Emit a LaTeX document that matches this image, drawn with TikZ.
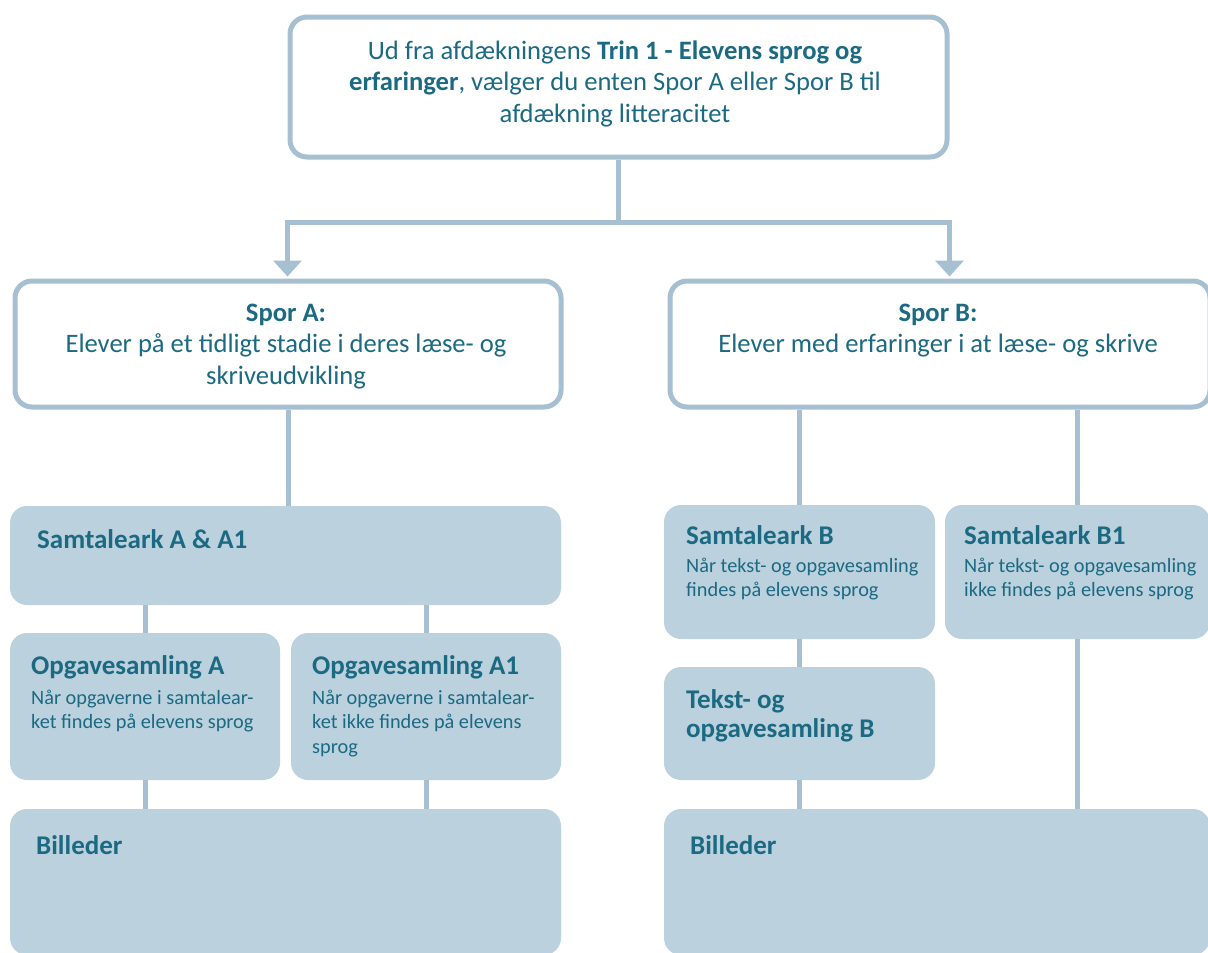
\documentclass[tikz,border=0pt]{standalone}
\usepackage{fontspec}
\setmainfont{Carlito}
\usetikzlibrary{arrows.meta,calc}
\definecolor{lineblue}{HTML}{A6C0D2}
\definecolor{fillblue}{HTML}{BBD1DE}
\definecolor{txtcol}{HTML}{1B6A82}
\newcommand\mylinesl[1]{\begin{tabular}[t]{@{}l@{}}#1\end{tabular}}
\newcommand\mylinesc[1]{\begin{tabular}[t]{@{}c@{}}#1\end{tabular}}
\begin{document}
\begin{tikzpicture}[x=1pt,y=-1pt,
  wbox/.style={draw=lineblue, line width=5pt, fill=white, rounded corners=17pt, anchor=north west, inner sep=0pt},
  fbox/.style={fill=fillblue, rounded corners=17pt, anchor=north west, inner sep=0pt, outer sep=0pt},
  conn/.style={draw=lineblue, line width=5pt},
  arr/.style={conn, -{Triangle[width=28pt,length=16pt]}, shorten >=2pt},
  bigtxt/.style={text=txtcol, font=\fontsize{26.6}{31.7}\selectfont, inner sep=0pt, anchor=base},
  headtxt/.style={text=txtcol, font=\bfseries\fontsize{27}{29}\selectfont, inner sep=0pt, anchor=base west},
  subtxt/.style={text=txtcol, font=\fontsize{20.3}{24.5}\selectfont, inner sep=0pt, anchor=base west}]
\useasboundingbox (0,0) rectangle (1208,953);
\clip (0,0) rectangle (1208,953);

% bordered boxes
\node[wbox, minimum width=657pt, minimum height=140pt] (top) at (287.5,14.5) {};
\node[wbox, minimum width=546pt, minimum height=126pt] (spA) at (12.5,278.5) {};
\node[wbox, minimum width=540pt, minimum height=126pt] (spB) at (667.5,278.5) {};

% filled boxes
\node[fbox, minimum width=551pt, minimum height=99pt] (samA) at (10,506) {};
\node[fbox, minimum width=270pt, minimum height=147pt] (opgA) at (10,633) {};
\node[fbox, minimum width=270pt, minimum height=147pt] (opgAi) at (291,633) {};
\node[fbox, minimum width=551pt, minimum height=146pt] (bilA) at (10,809) {};
\node[fbox, minimum width=271pt, minimum height=134pt] (samB) at (664,505) {};
\node[fbox, minimum width=265pt, minimum height=134pt] (samBi) at (945,505) {};
\node[fbox, minimum width=271pt, minimum height=113pt] (tekB) at (664,667) {};
\node[fbox, minimum width=546pt, minimum height=146pt] (bilB) at (664,809) {};

% connectors
\draw[arr] (top.south) -- ++(0,63) -| (top.west |- spA.north);
\draw[arr] (top.south) -- ++(0,63) -| (top.east |- spB.north);
\draw[conn] (spA.south) -- (spA.south |- samA.north);
\draw[conn] (opgA.north |- samA.south) -- (opgA.north);
\draw[conn] (opgAi.north |- samA.south) -- (opgAi.north);
\draw[conn] (opgA.south) -- (opgA.south |- bilA.north);
\draw[conn] (opgAi.south) -- (opgAi.south |- bilA.north);
\draw[conn] (samB.north |- spB.south) -- (samB.north);
\draw[conn] (samBi.north |- spB.south) -- (samBi.north);
\draw[conn] (samB.south) -- (tekB.north);
\draw[conn] (tekB.south) -- (tekB.south |- bilB.north);
\draw[conn] (samBi.south) -- (samBi.south |- bilB.north);

% texts
\node[bigtxt] (toptxt) at (615,59) {\mylinesc{Ud fra afdækningens \textbf{Trin 1 - Elevens sprog og}\\\textbf{erfaringer}, vælger du enten Spor A eller Spor B til\\afdækning litteracitet}};
\node[bigtxt] (spAtxt) at (286,321) {\mylinesc{\textbf{Spor A:}\\Elever på et tidligt stadie i deres læse- og\\skriveudvikling}};
\node[bigtxt] (spBtxt) at (938,321) {\mylinesc{\textbf{Spor B:}\\Elever med erfaringer i at læse- og skrive}};

\node[headtxt] (samAtxt) at (37,548) {Samtaleark A \& A1};
\node[headtxt] (opgAtxt) at (31,674) {Opgavesamling A};
\node[subtxt] (opgAsub) at (31,704) {\mylinesl{Når opgaverne i samtalear-\\ket findes på elevens sprog}};
\node[headtxt] (opgAitxt) at (312,674) {Opgavesamling A1};
\node[subtxt] (opgAisub) at (312,704) {\mylinesl{Når opgaverne i samtalear-\\ket ikke findes på elevens\\sprog}};
\node[headtxt] (bilAtxt) at (36,854) {Billeder};

\node[headtxt] (samBtxt) at (686,544) {Samtaleark B};
\node[subtxt] (samBsub) at (686,572) {\mylinesl{Når tekst- og opgavesamling\\findes på elevens sprog}};
\node[headtxt] (samBitxt) at (964,544) {Samtaleark B1};
\node[subtxt] (samBisub) at (964,572) {\mylinesl{Når tekst- og opgavesamling\\ikke findes på elevens sprog}};
\node[headtxt] (tekBtxt) at (686,708) {\mylinesl{Tekst- og\\opgavesamling B}};
\node[headtxt] (bilBtxt) at (690,854) {Billeder};
\end{tikzpicture}
\end{document}
